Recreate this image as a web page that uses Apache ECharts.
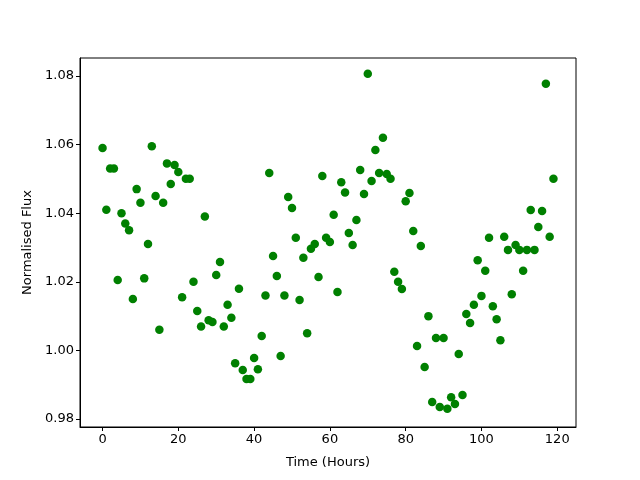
<!DOCTYPE html>
<html>
<head>
<meta charset="utf-8">
<script src="https://cdn.jsdelivr.net/npm/echarts@6/dist/echarts.min.js"></script>
<style>
  html, body { margin: 0; padding: 0; background: #fff; }
  #chart { width: 640px; height: 480px; }
</style>
</head>
<body>
<div id="chart"></div>
<script>
// hourly samples
var hours = [];
for (var i = 0; i < 120; i++) hours.push(i);

var flux = [
  1.059, 1.041, 1.053, 1.053, 1.0205, 1.040, 1.037, 1.035, 1.015, 1.047,
  1.043, 1.021, 1.031, 1.0595, 1.045, 1.006, 1.043, 1.0545, 1.0485, 1.054,
  1.052, 1.0155, 1.050, 1.050, 1.020, 1.0115, 1.007, 1.039, 1.0088, 1.0083,
  1.022, 1.0258, 1.007, 1.0133, 1.0095, 0.9963, 1.018, 0.9943, 0.9917, 0.9917,
  0.9978, 0.9945, 1.0042, 1.016, 1.0517, 1.0275, 1.0217, 0.9984, 1.016, 1.0447,
  1.0415, 1.0328, 1.0147, 1.027, 1.005, 1.0296, 1.031, 1.0214, 1.0508, 1.0328,
  1.0316, 1.0395, 1.017, 1.049, 1.046, 1.0342, 1.0307, 1.038, 1.0526, 1.0456,
  1.0806, 1.0494, 1.0584, 1.0517, 1.062, 1.0514, 1.050, 1.0229, 1.020, 1.0179,
  1.0435, 1.0459, 1.0348, 1.0013, 1.0304, 0.9952, 1.010, 0.985, 1.0036, 0.9835,
  1.0036, 0.983, 0.9864, 0.9844, 0.999, 0.987, 1.0106, 1.008, 1.0133, 1.0263,
  1.0159, 1.0232, 1.0328, 1.0129, 1.0091, 1.003, 1.0331, 1.0293, 1.0164, 1.0307,
  1.0293, 1.0232, 1.0293, 1.0409, 1.0293, 1.036, 1.0406, 1.0777, 1.0331, 1.050
];

var xTicks = [0, 20, 40, 60, 80, 100, 120];
var yTicks = [0.98, 1.00, 1.02, 1.04, 1.06, 1.08];

var points = hours.map(function (h, i) { return [h, flux[i]]; });

var chart = echarts.init(document.getElementById("chart"));

var option = {
  animation: false,
  backgroundColor: "#fff",
  textStyle: { fontFamily: "DejaVu Sans" },
  grid: {
    left: 80,
    right: 64,
    top: 58,
    bottom: 53,
    show: true,
    borderColor: "#000",
    borderWidth: 1,
  },
  xAxis: {
    type: "value",
    min: -5.95,
    max: 124.95,
    name: "Time (Hours)",
    nameLocation: "middle",
    nameGap: 29,
    nameTextStyle: { color: "#000", fontSize: 13, fontFamily: "DejaVu Sans" },
    splitLine: { show: false },
    axisLine: { show: true, onZero: false, lineStyle: { color: "#000" } },
    axisTick: {
      show: true,
      length: 4,
      lineStyle: { color: "#000" },
      customValues: xTicks,
    },
    axisLabel: {
      color: "#000",
      fontSize: 13,
      margin: 6,
      customValues: xTicks,
    },
  },
  yAxis: {
    type: "value",
    min: 0.9777,
    max: 1.0852,
    name: "Normalised Flux",
    nameLocation: "middle",
    nameGap: 46,
    nameTextStyle: { color: "#000", fontSize: 13, fontFamily: "DejaVu Sans" },
    splitLine: { show: false },
    axisLine: { show: true, onZero: false, lineStyle: { color: "#000" } },
    axisTick: {
      show: true,
      length: 4,
      lineStyle: { color: "#000" },
      customValues: yTicks,
    },
    axisLabel: {
      color: "#000",
      fontSize: 13,
      margin: 6,
      customValues: yTicks,
      formatter: function (v) { return v.toFixed(2); },
    },
  },
  series: [
    {
      type: "scatter",
      data: points,
      symbol: "circle",
      symbolSize: 8.5,
      itemStyle: { color: "#008000", opacity: 1 },
    },
  ],
};

chart.setOption(option);
</script>
</body>
</html>
